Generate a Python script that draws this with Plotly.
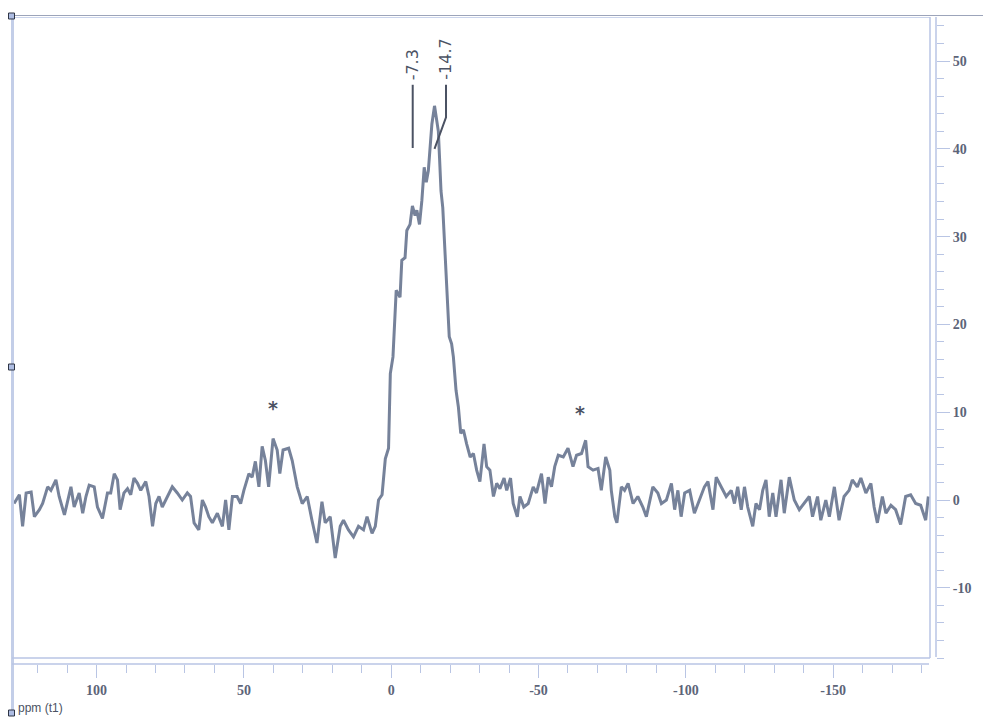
import plotly.graph_objects as go

# ---------------- data ----------------
ppm = [
    128.0, 126.2, 125.1, 123.9, 122.2, 121.1, 119.4, 118.3, 116.6, 115.5,
    113.8, 112.7, 110.9, 109.8, 108.7, 107.6, 105.9, 104.7, 103.6, 102.5,
    100.8, 99.7, 98.0, 96.3, 95.2, 94.0, 92.9, 92.0, 90.7, 89.5,
    88.4, 87.3, 86.1, 85.0, 83.3, 82.2, 81.0, 79.9, 78.8, 77.7,
    76.0, 74.3, 72.6, 70.9, 69.2, 68.1, 66.9, 65.3, 64.1, 63.0,
    61.9, 60.7, 59.0, 57.3, 56.2, 55.1, 53.9, 52.3, 51.1, 50.0,
    48.3, 47.2, 46.1, 44.9, 43.8, 42.7, 41.6, 40.1, 38.7, 37.8,
    36.7, 34.8, 33.6, 31.9, 30.2, 28.5, 26.9, 25.2, 23.5, 22.4,
    20.7, 19.0, 17.3, 16.2, 14.5, 12.8, 11.1, 9.4, 8.2, 6.5,
    5.4, 4.3, 3.1, 2.0, 0.9,
    0.3, -0.6, -1.4, -1.7, -3.0, -3.6, -4.7, -5.3, -6.4, -7.2,
    -8.1, -8.7, -9.6, -10.4, -11.2, -11.9, -12.6, -13.2, -13.8, -14.7,
    -15.5, -16.0, -16.4, -16.9, -17.5, -18.3, -19.1, -19.7, -20.5, -21.1,
    -22.0, -22.8, -23.6, -24.5, -25.6, -26.8, -27.9, -29.0, -30.1, -31.5,
    -32.4, -33.5,
    -34.7, -35.8, -36.9, -38.3, -39.2, -40.5, -41.4, -42.8, -43.7, -45.0,
    -46.5, -48.2, -49.3, -51.0, -52.2, -53.3, -54.4, -55.5, -56.7, -58.4,
    -60.0, -61.7, -62.9, -64.6, -66.0, -66.8, -68.5, -70.2, -71.3, -72.8,
    -74.2, -74.7, -75.9, -76.6, -78.1, -79.2, -80.4, -82.1, -83.7, -85.4,
    -86.6, -87.7, -88.8, -90.5, -91.7, -93.4, -95.1, -96.2, -97.3, -98.4,
    -99.6, -101.3, -102.9, -104.6, -106.3, -107.5, -109.2, -110.3, -112.0, -113.7,
    -115.4, -116.5, -117.6, -118.8, -119.9, -121.0, -122.7, -123.8, -125.0, -126.1,
    -127.2, -128.3, -129.5, -130.6, -132.3, -133.4, -135.1, -136.8, -138.5, -140.2,
    -141.9, -143.0, -144.7, -145.8, -147.5, -148.7, -150.4, -152.0, -153.7, -155.4,
    -156.5, -158.2, -159.4, -161.1, -162.8, -163.9, -165.0, -166.7, -167.9, -169.6,
    -171.2, -172.9, -174.6, -176.3, -178.0, -179.7, -181.4, -182.3,
]
intensity = [
    -0.4, 0.6, -3.0, 0.8, 0.9, -1.9, -1.1, -0.4, 1.5, 1.1,
    2.3, 0.4, -1.7, 0.0, 1.5, -0.8, 0.8, -1.5, 0.4, 1.7,
    1.5, -0.8, -2.1, 0.8, 0.8, 3.0, 2.3, -1.1, 0.8, 1.3,
    0.6, 2.5, 1.9, 1.1, 2.1, 0.4, -3.0, -0.4, 0.4, -0.8,
    0.4, 1.5, 0.8, 0.0, 0.8, 0.4, -2.6, -3.4, 0.0, -0.8,
    -1.9, -2.6, -1.5, -3.0, 0.0, -3.4, 0.4, 0.4, -0.4, 1.1,
    3.0, 2.6, 4.4, 1.5, 6.1, 4.5, 1.5, 7.0, 5.7, 3.0,
    5.7, 5.9, 4.5, 1.5, -0.4, 0.4, -2.3, -4.9, -0.2, -2.6,
    -1.9, -6.6, -3.0, -2.3, -3.4, -4.2, -3.0, -3.4, -1.9, -3.8,
    -3.0, 0.0, 0.6, 4.7, 5.9,
    14.4, 16.3, 22.4, 23.9, 23.1, 27.3, 27.6, 30.7, 31.4, 33.5,
    32.4, 33.0, 31.4, 34.1, 37.9, 36.2, 37.5, 40.1, 42.8, 44.9,
    42.8, 42.0, 39.0, 35.2, 33.3, 27.6, 22.7, 18.6, 17.8, 16.3,
    12.5, 10.6, 7.6, 8.0, 6.4, 4.9, 5.3, 3.4, 2.1, 6.4,
    3.8, 3.4,
    0.4, 1.9, 1.3, 2.5, 1.1, 2.5, -0.4, -1.9, 0.4, -0.8,
    -0.4, 1.5, 0.8, 3.0, -0.4, 2.6, 1.5, 3.8, 5.1, 4.9,
    5.9, 3.8, 5.1, 5.3, 6.8, 3.8, 3.4, 3.6, 1.1, 4.9,
    3.4, 1.1, -1.9, -2.6, 1.5, 1.1, 1.9, -0.4, 0.4, -0.8,
    -1.9, 0.0, 1.5, 0.8, -0.4, 0.0, 1.9, -1.1, 1.1, -1.9,
    0.8, 1.1, -1.5, 0.0, 1.5, 2.1, -1.1, 2.6, 1.5, 0.4,
    1.1, -0.4, 1.5, -1.1, 1.5, -0.8, -3.0, -0.4, -1.1, 1.1,
    2.3, -1.9, 0.8, -1.9, 2.3, -1.5, 2.6, 0.0, -1.1, -0.4,
    0.4, -1.9, 0.4, -2.3, 0.0, -1.9, 1.5, -2.3, 0.4, 1.1,
    2.3, 1.5, 2.5, 0.8, 1.9, -0.8, -2.6, 0.4, -1.5, -0.6,
    -1.1, -2.8, 0.4, 0.6, -0.4, -0.6, -2.3, 0.4,
]
assert len(ppm) == len(intensity)

peak_ppm = [-7.3, -14.7]
peak_labels = ["-7.3", "-14.7"]
sideband_ppm = [40.0, -64.0]
sideband_height = [10.5, 9.9]

x_tick_vals = [100, 50, 0, -50, -100, -150]
x_tick_text = ["100", "50", "0", "-50", "-100", "-150"]
y_tick_vals = [-10, 0, 10, 20, 30, 40, 50]
y_tick_text = ["-10", "0", "10", "20", "30", "40", "50"]

x_range = [128.7, -184.9]
y_range = [-18.68, 55.02]

# ---------------- styling ----------------
W, H = 983, 718
L, R, T, B = 12, 936, 17, 664          # plot area in pixels
TRACE = "#76829a"
AXIS = "#b9c5e4"
TEXT = "#4b5263"
TICKTXT = "#5d6478"


def px(x):
    return (x - L) / (R - L)


def py(y):
    return (B - y) / (B - T)


fig = go.Figure()
fig.add_trace(go.Scatter(x=ppm, y=intensity, mode="lines",
                         line=dict(color=TRACE, width=3),
                         hoverinfo="skip", showlegend=False))

shapes = []
# frame / decoration lines
shapes.append(dict(type="line", xref="paper", yref="paper",
                   x0=px(12), x1=px(983), y0=py(15.5), y1=py(15.5),
                   line=dict(color="#9ca4ba", width=1)))
shapes.append(dict(type="line", xref="paper", yref="paper",
                   x0=px(12), x1=px(930), y0=py(17.5), y1=py(17.5),
                   line=dict(color="#cad4ec", width=1)))
shapes.append(dict(type="line", xref="paper", yref="paper",
                   x0=px(12.5), x1=px(12.5), y0=py(15), y1=py(713),
                   line=dict(color="#c3cee8", width=3)))
shapes.append(dict(type="line", xref="paper", yref="paper",
                   x0=px(930), x1=px(930), y0=py(17), y1=py(658),
                   line=dict(color=AXIS, width=1.5)))
shapes.append(dict(type="line", xref="paper", yref="paper",
                   x0=px(12), x1=px(930), y0=py(658), y1=py(658),
                   line=dict(color=AXIS, width=1.5)))
# axis lines (offset from the frame)
shapes.append(dict(type="line", xref="paper", yref="paper",
                   x0=px(12), x1=px(929), y0=py(664), y1=py(664),
                   line=dict(color=AXIS, width=1.5)))
shapes.append(dict(type="line", xref="paper", yref="paper",
                   x0=px(936), x1=px(936), y0=py(17), y1=py(657),
                   line=dict(color=AXIS, width=1.5)))
# selection handles
for hy in (16, 367, 713):
    shapes.append(dict(type="rect", xref="paper", yref="paper",
                       x0=px(8.5), x1=px(14.5), y0=py(hy - 3), y1=py(hy + 3),
                       fillcolor="#aebde3", line=dict(color="#2e3545", width=1)))

# peak leader lines
label_offsets = [0.0, -3.9]
for pk, off in zip(peak_ppm, label_offsets):
    lx = pk + off
    shapes.append(dict(type="path", xref="x", yref="y",
                       path=f"M {lx},47.3 L {lx},43.6 L {pk},40.0" if off else
                       f"M {lx},47.3 L {lx},40.1",
                       line=dict(color=TEXT, width=2)))

annotations = []
for pk, off, lab in zip(peak_ppm, label_offsets, peak_labels):
    annotations.append(dict(x=pk + off, y=47.6, xref="x", yref="y",
                            text=lab, textangle=-90, showarrow=False,
                            xanchor="center", yanchor="bottom",
                            font=dict(family="DejaVu Sans", size=16, color=TEXT)))
for sx, sy in zip(sideband_ppm, sideband_height):
    annotations.append(dict(x=sx, y=sy, xref="x", yref="y", text="*",
                            showarrow=False, xanchor="center", yanchor="middle",
                            font=dict(family="DejaVu Sans", size=19, color=TEXT,
                                      weight="bold")))
annotations.append(dict(x=px(16), y=py(708), xref="paper", yref="paper",
                        text="ppm (t1)", showarrow=False,
                        xanchor="left", yanchor="middle",
                        font=dict(family="Liberation Sans", size=12, color=TEXT)))

tickfont = dict(family="Liberation Serif", size=14, color=TICKTXT, weight="bold")

fig.update_layout(
    width=W, height=H,
    margin=dict(l=L, r=W - R, t=T, b=H - B, pad=0),
    paper_bgcolor="white", plot_bgcolor="white",
    showlegend=False,
    shapes=shapes, annotations=annotations,
    xaxis=dict(range=x_range, showgrid=False, zeroline=False, showline=False,
               tickmode="array", tickvals=x_tick_vals, ticktext=x_tick_text,
               ticks="outside", ticklen=13, tickwidth=1, tickcolor=AXIS,
               tickfont=tickfont,
               minor=dict(tickmode="linear", tick0=0, dtick=10, ticks="outside",
                          ticklen=8, tickwidth=1, tickcolor=AXIS, showgrid=False)),
    yaxis=dict(range=y_range, side="right", showgrid=False, zeroline=False,
               showline=False,
               tickmode="array", tickvals=y_tick_vals, ticktext=y_tick_text,
               ticks="outside", ticklen=13, tickwidth=1, tickcolor=AXIS,
               tickfont=tickfont,
               minor=dict(tickmode="linear", tick0=0, dtick=2, ticks="outside",
                          ticklen=7, tickwidth=1, tickcolor=AXIS, showgrid=False)),
)

fig.write_html("out.html")
